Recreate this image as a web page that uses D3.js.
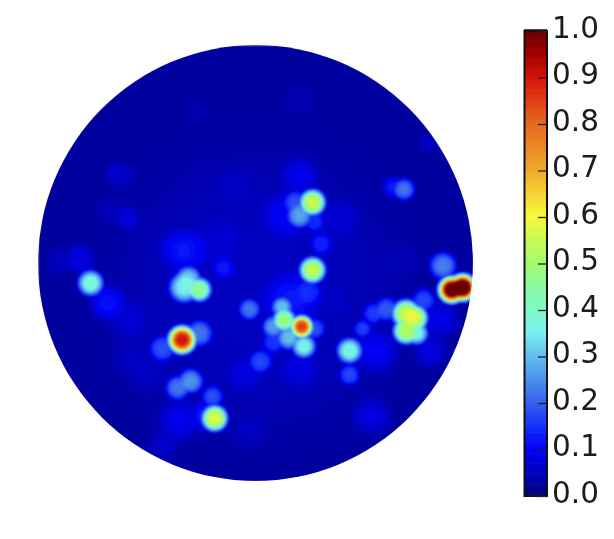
<!DOCTYPE html>
<html>
<head>
<meta charset="utf-8">
<script src="https://d3js.org/d3.v7.min.js"></script>
<style>
html, body { margin: 0; padding: 0; background: #fff; }
svg { display: block; }
text { font-family: "DejaVu Sans", sans-serif; }
</style>
</head>
<body>
<svg width="614" height="539"></svg>
<script>
// hot spots, disc coordinates -100..100
const hotX = [-76,-34,-26,-33,-31,-19,-30,-36,-20,-26,-43,-3,2,-68,-81,-59,-15,-30,26,20,18,27,30,26,68,63,86,90,95,21,13,12,8,15,22,27,24,43,43,49,54,60,69,73,69,74,77,8];
const hotY = [-9,-35,-12,-11,-7,-71,-54,-57,-61,-32,-39,-21,-45,-18,2,21,-2,6,28,22,28,19,9,-3,34,35,-1,-12,-11,-29,-26,-20,-29,-34,-38,-30,-13,-40,-51,-30,-23,-21,-23,-25,-31,-32,-17,-36];
const hotV = [.38,.9,.46,.35,.31,.57,.25,.22,.18,.22,.18,.22,.17,.11,.08,.075,.12,.1,.55,.27,.18,.14,.13,.54,.22,.12,.23,1.05,1.1,.85,.48,.3,.26,.3,.36,.18,.14,.37,.17,.16,.16,.19,.54,.56,.52,.36,.17,.15];
const hotR = [4.2,4.4,3.9,5,4.2,4.2,4.2,4.2,3.7,4.6,4.6,3.7,4.2,6.5,5.5,4.6,4.2,7.5,4.2,4.2,4.2,3.7,4.2,4.2,3.7,3.7,4.6,4.2,4.2,3.5,3.7,3.4,3.7,3.9,3.9,3.7,5,4.2,3.7,3.2,3.7,4.2,4.6,4.2,4.2,3.7,4.2,4.2];
// faint patches of the dark background
const faintX = [0,-62,-65,20,14,39,-35,-16,-58,-90,-58,16,-23,-35,-42,-5,20,55,53,80,85,37,-3,66,20,-28,-67,79,-10,-50];
const faintY = [-12,40,42,40,22,20,6,10,-26,1,-44,-17,-70,-72,-83,-51,-49,-40,-70,-40,-26,-17,-77,1,75,70,24,55,35,-50];
const faintV = [.05,.055,.06,.09,.1,.07,.11,.07,.07,.05,.05,.12,.13,.09,.06,.08,.08,.1,.08,.08,.09,.05,.05,.04,.04,.035,.045,.055,.05,.05];
const faintR = [80,7,5,9,12,10,10,12,10,8,10,14,7,10,8,9,10,10,9,8,8,9,10,12,10,8,8,5,12,12];
const baseValue = 0.025;
const tickValues = [0,.1,.2,.3,.4,.5,.6,.7,.8,.9,1];
// colour ramp
const rampStops = [0,.05,.1,.15,.2,.25,.3,.35,.4,.45,.5,.55,.6,.65,.7,.75,.8,.85,.9,.95,1];
const rampColors = ["#00007d","#0000be","#0000f5","#1432fa","#375ff0","#4b91eb","#5fbef0","#78f0f0","#7dfac8","#87faa0","#a5fa6e","#c8fa50","#f5fa3c","#f5d232","#f0aa28","#eb8723","#e6691e","#e13c14","#d2140a","#a00000","#690000"];

const svg = d3.select("svg");
const discX = d3.scaleLinear().domain([-100, 100]).range([38, 473]);
const discY = d3.scaleLinear().domain([-100, 100]).range([481, 45]);
const barY = d3.scaleLinear().domain([0, 1]).range([496, 31]);
const color = d3.scaleLinear().domain(rampStops).range(rampColors).clamp(true);

function field(x, y) {
  let s = Math.pow(baseValue, 5);
  for (let i = 0; i < hotX.length; i++) {
    const r = hotR[i] * 1.35;
    const d2 = ((x - hotX[i]) ** 2 + (y - hotY[i]) ** 2) / (r * r);
    if (d2 < 6) s += Math.pow(hotV[i] * Math.exp(-d2 * d2), 5);
  }
  for (let i = 0; i < faintX.length; i++) {
    const d2 = ((x - faintX[i]) ** 2 + (y - faintY[i]) ** 2) / (faintR[i] * faintR[i]);
    if (d2 < 9) s += Math.pow(faintV[i] * Math.exp(-d2 * Math.sqrt(d2) * .8), 5);
  }
  return Math.pow(s, 1 / 5);
}

// HEATMAP: painted once then used as image, clipped round
const canvas = document.createElement("canvas");
canvas.width = 436; canvas.height = 437;
const ctx = canvas.getContext("2d");
const img = ctx.createImageData(canvas.width, canvas.height);
for (let py = 0; py < canvas.height; py++) {
  for (let px = 0; px < canvas.width; px++) {
    const c = d3.rgb(color(field(discX.invert(px + 38), discY.invert(py + 45))));
    const k = (py * canvas.width + px) * 4;
    img.data[k] = c.r; img.data[k + 1] = c.g; img.data[k + 2] = c.b; img.data[k + 3] = 255;
  }
}
ctx.putImageData(img, 0, 0);

const defs = svg.append("defs");
defs.append("filter").attr("id", "soft").append("feGaussianBlur").attr("stdDeviation", 1);
defs.append("filter").attr("id", "softText").append("feGaussianBlur").attr("stdDeviation", 0.4);
defs.append("clipPath").attr("id", "disc").append("ellipse")
  .attr("cx", discX(0)).attr("cy", discY(0))
  .attr("rx", discX(100) - discX(0)).attr("ry", discY(-100) - discY(0));
svg.append("g").attr("clip-path", "url(#disc)")
  .append("image")
  .attr("x", 38).attr("y", 45)
  .attr("width", canvas.width).attr("height", canvas.height)
  .attr("href", canvas.toDataURL())
  .attr("filter", "url(#soft)");

// COLORBAR
const levels = d3.range(256).map(i => i / 255);
svg.append("g").selectAll("rect").data(levels).enter().append("rect")
  .attr("x", 524).attr("width", 23)
  .attr("y", d => barY(d) - 465 / 256)
  .attr("height", 465 / 256 + 0.6)
  .attr("fill", d => color(d));
svg.append("rect")
  .attr("x", 524.5).attr("y", 31).attr("width", 22.5).attr("height", 465)
  .attr("fill", "none").attr("stroke", "#111").attr("stroke-width", 2);

const axis = d3.axisRight(barY).tickValues(tickValues).tickFormat(d3.format(".1f")).tickSize(0).tickPadding(0);
const ax = svg.append("g").attr("transform", "translate(547,0)").call(axis);
ax.select(".domain").remove();
ax.selectAll(".tick line").attr("x1", -9).attr("x2", 0).attr("stroke", "#222").attr("stroke-width", 1.3);
ax.selectAll(".tick text")
  .attr("x", 5).attr("dy", "0.3em")
  .attr("transform", "translate(0,-2.5)")
  .attr("font-size", 29.5).attr("font-family", "DejaVu Sans").attr("fill", "#1a1a1a")
  .attr("filter", "url(#softText)");
</script>
</body>
</html>
